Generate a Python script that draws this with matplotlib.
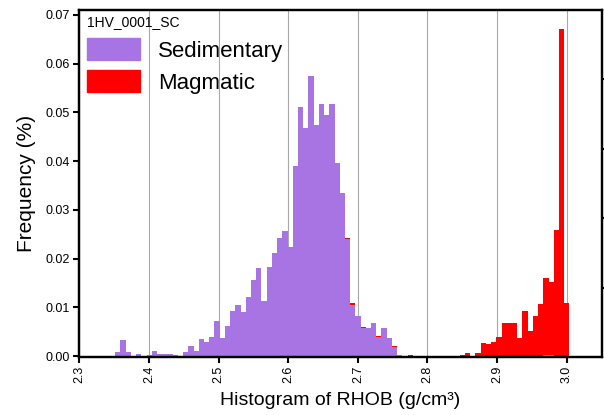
import numpy as np
import matplotlib

matplotlib.use("Agg")
import matplotlib.pyplot as plt
from matplotlib.patches import Patch

plt.rcParams["font.family"] = ["Liberation Sans", "DejaVu Sans"]

# RHOB histogram, 87 bins of 0.0075 g/cm3 starting at 2.3515
bin_start = 2.3515
bin_width = 0.0075

sedimentary = [
    0.0008, 0.0033, 0.0008, 0.0000, 0.0004, 0.0000, 0.0003, 0.0010, 0.0004, 0.0004,
    0.0004, 0.0003, 0.0001, 0.0008, 0.0021, 0.0011, 0.0035, 0.0029, 0.0038, 0.0072,
    0.0036, 0.0062, 0.0093, 0.0105, 0.0091, 0.0122, 0.0156, 0.0180, 0.0112, 0.0183,
    0.0212, 0.0242, 0.0257, 0.0224, 0.0389, 0.0510, 0.0468, 0.0575, 0.0474, 0.0517,
    0.0495, 0.0517, 0.0396, 0.0334, 0.0240, 0.0105, 0.0082, 0.0057, 0.0057, 0.0067,
    0.0038, 0.0057, 0.0036, 0.0018, 0.0002, 0.0000, 0.0000, 0.0000, 0.0000, 0.0000,
    0.0000, 0.0000, 0.0000, 0.0000, 0.0000, 0.0000, 0.0000, 0.0000, 0.0000, 0.0000,
    0.0000, 0.0000, 0.0000, 0.0000, 0.0000, 0.0000, 0.0000, 0.0000, 0.0000, 0.0000,
    0.0000, 0.0000, 0.0003, 0.0003, 0.0000, 0.0000, 0.0000,
]

magmatic = [
    0.0000, 0.0000, 0.0000, 0.0000, 0.0000, 0.0000, 0.0000, 0.0000, 0.0000, 0.0000,
    0.0000, 0.0000, 0.0000, 0.0000, 0.0000, 0.0000, 0.0000, 0.0000, 0.0000, 0.0000,
    0.0000, 0.0000, 0.0000, 0.0000, 0.0000, 0.0000, 0.0000, 0.0000, 0.0000, 0.0000,
    0.0000, 0.0000, 0.0000, 0.0000, 0.0000, 0.0000, 0.0000, 0.0000, 0.0000, 0.0000,
    0.0000, 0.0000, 0.0000, 0.0000, 0.0003, 0.0003, 0.0000, 0.0003, 0.0000, 0.0000,
    0.0003, 0.0000, 0.0000, 0.0003, 0.0000, 0.0000, 0.0003, 0.0001, 0.0000, 0.0000,
    0.0001, 0.0001, 0.0000, 0.0001, 0.0001, 0.0001, 0.0003, 0.0007, 0.0000, 0.0007,
    0.0026, 0.0024, 0.0029, 0.0038, 0.0067, 0.0067, 0.0067, 0.0036, 0.0093, 0.0051,
    0.0082, 0.0106, 0.0157, 0.0149, 0.0258, 0.0672, 0.0108,
]

x_ticks = [2.3, 2.4, 2.5, 2.6, 2.7, 2.8, 2.9, 3.0]
y_ticks = [0.00, 0.01, 0.02, 0.03, 0.04, 0.05, 0.06, 0.07]

purple = "#A873E3"
red = "#FF0000"

sed = np.array(sedimentary)
mag = np.array(magmatic)
edges = bin_start + bin_width * np.arange(len(sed) + 1)

fig = plt.figure(figsize=(6.04, 4.15), dpi=100)
ax = fig.add_axes([0.1308, 0.1398, 0.866, 0.8361])

ax.stairs(sed, edges, fill=True, color=purple, zorder=2)
ax.stairs(sed + mag, edges, baseline=sed, fill=True, color=red, zorder=2)

ax.set_xlim(2.2994, 3.0509)
ax.set_ylim(-0.0002, 0.071)
ax.set_xticks(x_ticks)
ax.set_xticklabels([f"{t:.1f}" for t in x_ticks], rotation=90)
ax.set_yticks(y_ticks)
ax.set_yticklabels([f"{t:.2f}" for t in y_ticks])
ax.tick_params(direction="out", length=4.5, width=1.5, labelsize=9, pad=2)
ax.xaxis.grid(True, color="#A8A8A8", linewidth=0.8, zorder=0)
ax.set_axisbelow(True)
for s in ax.spines.values():
    s.set_linewidth(1.6)

ax.set_xlabel("Histogram of RHOB (g/cm³)", fontsize=14, labelpad=6)
ax.set_ylabel("Frequency (%)", fontsize=15, labelpad=7)

# unlabeled ticks on the right edge
ax2 = ax.twinx()
ax2.set_ylim(0, 5)
ax2.set_yticks([1, 2, 3, 4])
ax2.set_yticklabels([])
ax2.tick_params(direction="out", length=4, width=1.5)
for s in ax2.spines.values():
    s.set_linewidth(1.6)

handles = [Patch(color=purple), Patch(color=red)]
leg = ax.legend(
    handles, ["Sedimentary", "Magmatic"],
    title="1HV_0001_SC", title_fontsize=10, fontsize=16,
    loc="upper left", bbox_to_anchor=(0.006, 0.997), frameon=False,
    alignment="left", handlelength=2.4, handleheight=1.1, handletextpad=0.8,
    labelspacing=0.4, borderpad=0.1, borderaxespad=0.1,
)

fig.savefig("out.png", dpi=100)
